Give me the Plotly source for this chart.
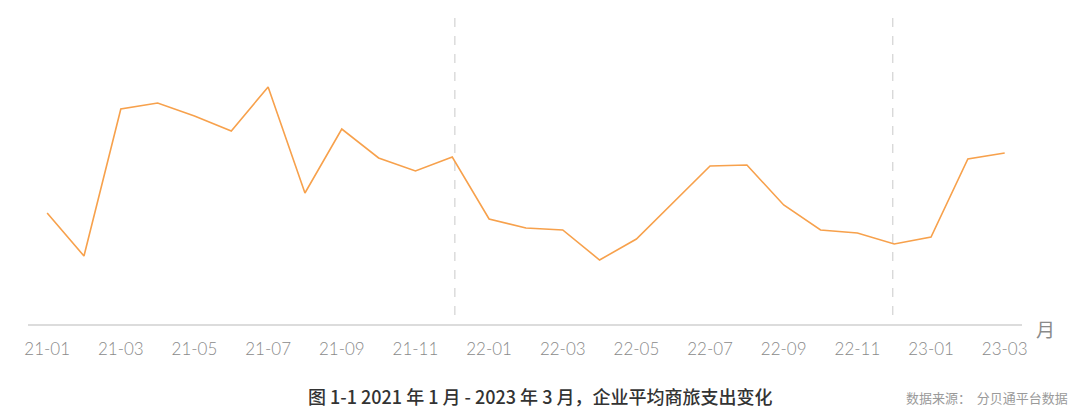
import plotly.graph_objects as go

months = ["21-01","21-02","21-03","21-04","21-05","21-06","21-07","21-08","21-09","21-10","21-11","21-12",
          "22-01","22-02","22-03","22-04","22-05","22-06","22-07","22-08","22-09","22-10","22-11","22-12",
          "23-01","23-02","23-03"]
spend = [111, 68, 215, 221, 208, 193, 237, 131, 195, 166, 153, 167,
         105, 96, 94, 64, 85, 121, 158, 159, 119, 94, 91, 80,
         87, 165, 171]
tick_labels = months[::2]
divider_positions = [11.07, 22.96]

x_idx = list(range(len(months)))

fig = go.Figure()
fig.add_trace(go.Scatter(x=x_idx, y=spend, mode="lines",
                         line=dict(color="#F7A14C", width=1.6),
                         hoverinfo="skip", showlegend=False))

for xp in divider_positions:
    fig.add_shape(type="line", xref="x", yref="paper", x0=xp, x1=xp, y0=1, y1=0,
                  line=dict(color="#d6d6d6", width=1.3, dash="dash"), layer="below")

fig.update_xaxes(range=[-0.52, 26.47], tickmode="array",
                 tickvals=x_idx[::2], ticktext=tick_labels,
                 showgrid=False, zeroline=False, showline=True,
                 linecolor="#dcdcdc", linewidth=2, ticks="",
                 tickfont=dict(family="Lato, sans-serif", size=17, color="#8a8a8a", weight=300),
                 ticklabelstandoff=9)
fig.update_yaxes(range=[0, 306], visible=False, showgrid=False, zeroline=False)

fig.add_annotation(text="月", xref="paper", yref="paper", x=1.012, y=-0.016, xanchor="left", yanchor="middle",
                   showarrow=False, font=dict(family="Noto Sans CJK SC", size=19, color="#8a8a8a"))
fig.add_annotation(text="图 1-1 2021 年 1 月 - 2023 年 3 月，企业平均商旅支出变化",
                   xref="paper", yref="paper", x=0.515, y=-0.235, xanchor="center", yanchor="middle",
                   showarrow=False,
                   font=dict(family="Noto Sans CJK SC", size=18, color="#333333", weight=500))
fig.add_annotation(text="数据来源：  分贝通平台数据", xref="paper", yref="paper",
                   x=1.048, y=-0.24, xanchor="right", yanchor="middle", showarrow=False,
                   font=dict(family="Noto Sans CJK SC", size=13, color="#9a9a9a"))

fig.update_layout(width=1064, height=403, margin=dict(l=20, r=50, t=10, b=87),
                  plot_bgcolor="white", paper_bgcolor="white")

fig.write_html("out.html")
